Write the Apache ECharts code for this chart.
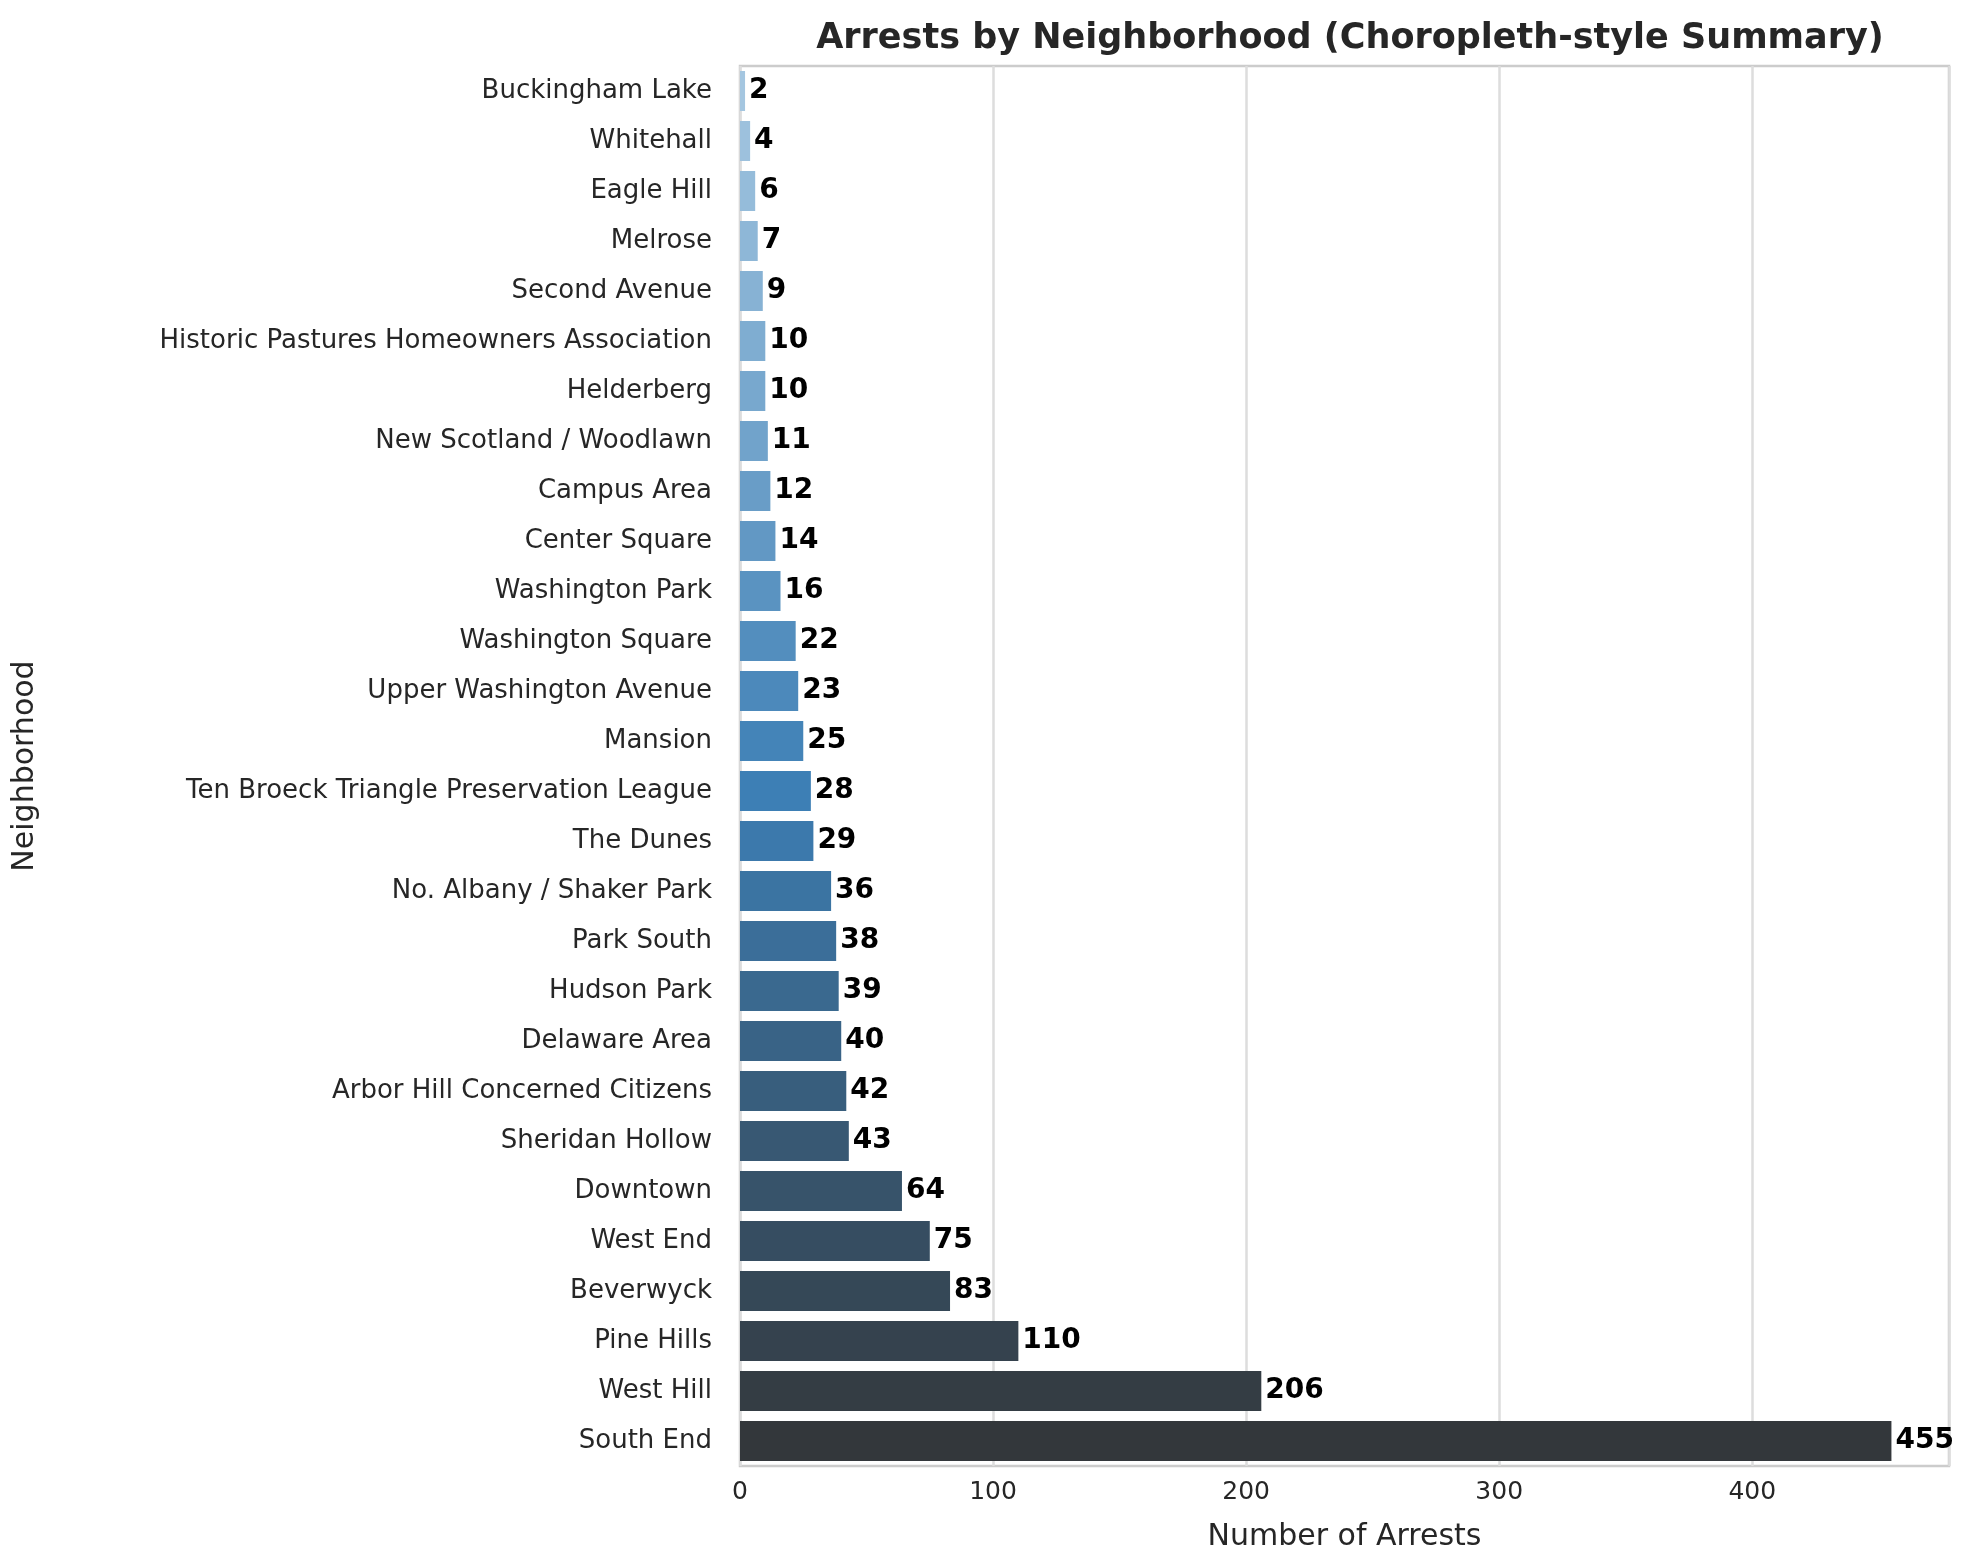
<!DOCTYPE html>
<html><head><meta charset="utf-8">
<script src="https://cdn.jsdelivr.net/npm/echarts@6/dist/echarts.min.js"></script>
<style>html,body{margin:0;background:#fff}#c{width:1982px;height:1568px}</style>
</head><body><div id="c"></div>
<script>
var neighborhoods = ['Buckingham Lake','Whitehall','Eagle Hill','Melrose','Second Avenue',
  'Historic Pastures Homeowners Association','Helderberg','New Scotland / Woodlawn','Campus Area',
  'Center Square','Washington Park','Washington Square','Upper Washington Avenue','Mansion',
  'Ten Broeck Triangle Preservation League','The Dunes','No. Albany / Shaker Park','Park South',
  'Hudson Park','Delaware Area','Arbor Hill Concerned Citizens','Sheridan Hollow','Downtown',
  'West End','Beverwyck','Pine Hills','West Hill','South End'];
var arrests = [2,4,6,7,9,10,10,11,12,14,16,22,23,25,28,29,36,38,39,40,42,43,64,75,83,110,206,455];
var xTicks = [0,100,200,300,400];

// Blues_d-like gradient: light blue -> blue -> dark slate
function hex(c){return [1,3,5].map(function(i){return parseInt(c.substr(i,2),16);});}
function mix(a,b,t){a=hex(a);b=hex(b);return 'rgb('+a.map(function(v,i){return Math.round(v+(b[i]-v)*t);}).join(',')+')';}
var n = neighborhoods.length;
function colorAt(i){
  var mid = 14;
  if (i <= mid) return mix('#a4c6e0', '#3d7fb5', i/mid);
  return mix('#3d7fb5', '#33373b', (i-mid)/(n-1-mid));
}
var data = arrests.map(function(v,i){return {value:v,itemStyle:{color:colorAt(i)}};});

var chart = echarts.init(document.getElementById('c'));
chart.setOption({
  textStyle:{fontFamily:'DejaVu Sans'},
  title:{text:'Arrests by Neighborhood (Choropleth-style Summary)',left:1345,top:16,textAlign:'center',
    textStyle:{fontSize:35,fontWeight:'bold',color:'#262626'}},
  grid:{left:740,right:33,top:66,bottom:102,show:true,borderColor:'#cccccc',borderWidth:2.5},
  xAxis:{type:'value',min:0,max:477.75,interval:100,
    name:'Number of Arrests',nameLocation:'middle',nameGap:56,
    nameTextStyle:{fontSize:30,color:'#262626'},
    axisLine:{show:false},axisTick:{show:false},
    axisLabel:{fontSize:25,color:'#262626',margin:14,showMaxLabel:false},
    splitLine:{lineStyle:{color:'#dddddd',width:2.5}}},
  yAxis:{type:'category',data:neighborhoods,inverse:true,
    name:'Neighborhood',nameLocation:'middle',nameGap:700,nameRotate:90,
    nameTextStyle:{fontSize:30,color:'#262626'},
    axisLine:{show:false},axisTick:{show:false},
    axisLabel:{fontSize:26,color:'#262626',margin:28}},
  series:[{type:'bar',data:data,barCategoryGap:'20%',
    label:{show:true,position:'right',distance:4,fontSize:28,fontWeight:'bold',color:'#000'}}]
});
</script></body></html>
